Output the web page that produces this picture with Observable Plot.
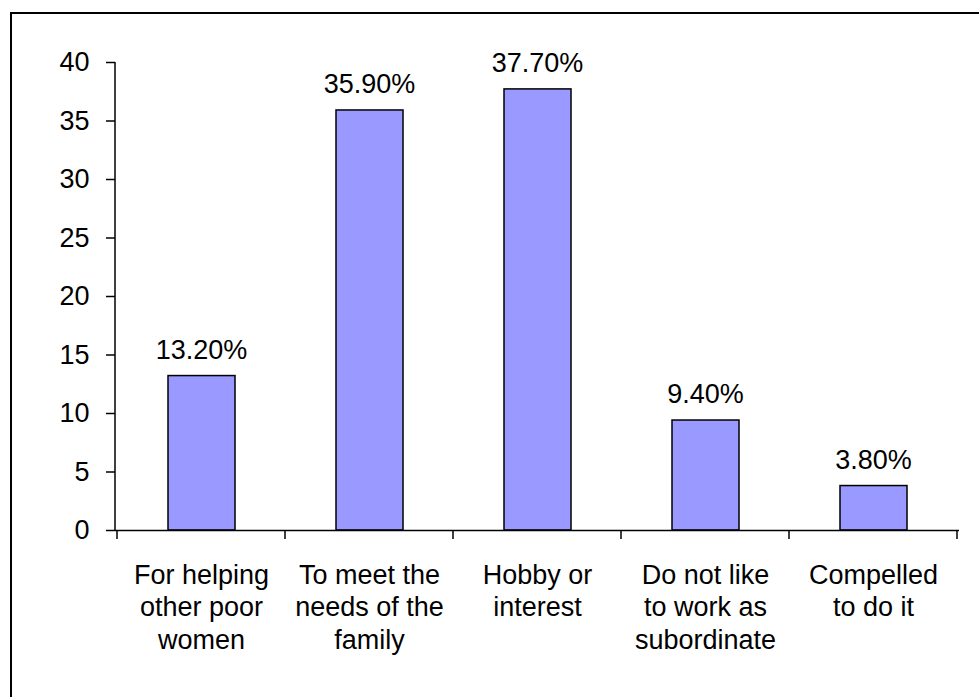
<!DOCTYPE html>
<html>
<head>
<meta charset="utf-8">
<script src="https://cdn.jsdelivr.net/npm/d3@7"></script>
<script src="https://cdn.jsdelivr.net/npm/@observablehq/plot@0.6"></script>
<style>
  html, body { margin: 0; padding: 0; background: #fff; overflow: hidden; }
  #chart { position: absolute; left: 0; top: 0; width: 979px; height: 697px; overflow: hidden; }
</style>
</head>
<body>
<div id="chart"></div>
<script>
const categories = ["For helping other poor women", "To meet the needs of the family", "Hobby or interest", "Do not like to work as subordinate", "Compelled to do it"];
const xLabels = ["For helping\nother poor\nwomen", "To meet the\nneeds of the\nfamily", "Hobby or\ninterest", "Do not like\nto work as\nsubordinate", "Compelled\nto do it"];
const values = [13.2, 35.9, 37.7, 9.4, 3.8];
const valueLabels = ["13.20%", "35.90%", "37.70%", "9.40%", "3.80%"];
const yTicks = [0, 5, 10, 15, 20, 25, 30, 35, 40];

const data = categories.map((c, i) => ({cat: c, value: values[i], label: valueLabels[i]}));
const font = "'Liberation Sans', Arial, sans-serif";
const fs = 27;

const plot = Plot.plot({
  width: 979,
  height: 697,
  marginLeft: 115,
  marginRight: 20,
  marginTop: 62,
  marginBottom: 167,
  x: {domain: categories, padding: 0, label: null},
  y: {domain: [0, 40], ticks: yTicks, label: null},
  style: {fontFamily: font, fontSize: fs + "px", background: "#fff", color: "#000"},
  marks: [
    Plot.barY(data, {x: "cat", y: "value", fill: "#9999ff", stroke: "#000", strokeWidth: 1.5, insetLeft: 51, insetRight: 50}),
    Plot.text(data, {x: "cat", y: "value", text: "label", dy: -26, fontSize: fs, fill: "#000"}),
    Plot.ruleY([0], {stroke: "#000", strokeWidth: 1.5}),
    Plot.axisY({ticks: yTicks, tickSize: 9, tickPadding: 17, fontSize: fs, strokeWidth: 1.5, tickFormat: d => String(d), label: null}),
    Plot.axisX({tickSize: 0, tickPadding: 31, fontSize: fs, lineHeight: 1.19, tickFormat: (d, i) => xLabels[categories.indexOf(d)], label: null})
  ]
});

document.getElementById("chart").appendChild(plot);

// y axis line and category boundary ticks from the plot's own scales
const xs = plot.scale("x");
const ys = plot.scale("y");
const g = d3.select(plot).append("g").attr("stroke", "#000").attr("stroke-width", 1.5);
const x0 = xs.range[0];
g.append("line").attr("x1", x0).attr("x2", x0).attr("y1", ys.apply(40)).attr("y2", ys.apply(0));
const bounds = categories.map(c => xs.apply(c)).concat([xs.apply(categories[categories.length - 1]) + xs.step]);
bounds.forEach(b => {
  g.append("line").attr("x1", b).attr("x2", b).attr("y1", ys.apply(0)).attr("y2", ys.apply(0) + 9);
});
// outer chart-area border (only left and top edges fall inside the image)
d3.select(plot).append("path")
  .attr("d", "M11,720V13H1000")
  .attr("fill", "none").attr("stroke", "#000").attr("stroke-width", 2);
</script>
</body>
</html>
